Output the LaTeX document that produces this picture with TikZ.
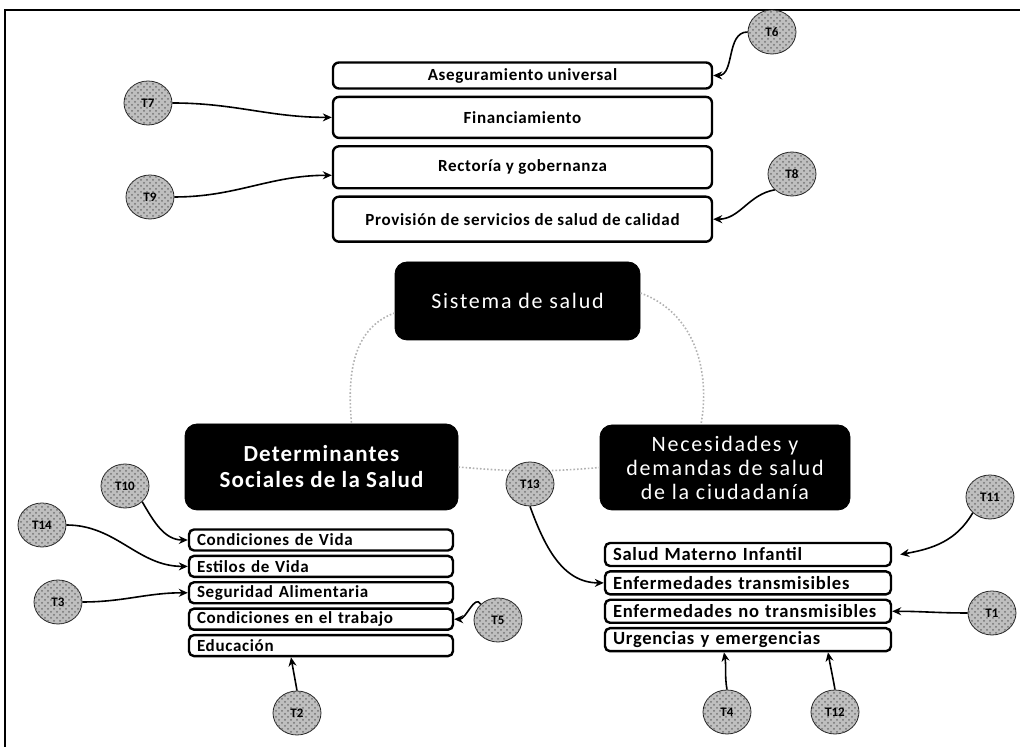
\documentclass[tikz,border=0pt]{standalone}
\usepackage{fontspec}
\setmainfont{Carlito}
\newfontfamily\spaced[LetterSpace=8]{Carlito}
\newfontfamily\spacedbold[LetterSpace=5]{Carlito}
\newfontfamily\itemfont[LetterSpace=4]{Carlito}
\usetikzlibrary{positioning, arrows.meta, shapes.geometric, patterns}

\tikzset{
  topbox/.style={draw, very thick, rounded corners=3pt, minimum width=189.5pt,
    font=\itemfont\fontsize{8.5}{10}\selectfont\bfseries, inner sep=1pt},
  leftbox/.style={draw, very thick, rounded corners=2.5pt, text width=124pt, align=left,
    minimum height=10.5pt, inner xsep=4pt, inner ysep=1.5pt, font=\itemfont\fontsize{8.5}{10}\selectfont\bfseries},
  rightbox/.style={draw, very thick, rounded corners=2.5pt, text width=135pt, align=left,
    minimum height=11.5pt, inner xsep=4pt, inner ysep=1.5pt, font=\itemfont\fontsize{9.3}{11}\selectfont\bfseries},
  blackbox/.style={fill=black, draw=black, rounded corners=6pt, text=white, align=center},
  tag/.style={ellipse, fill=gray!50, draw=gray!30!black, thin, minimum width=24pt,
    minimum height=22pt, inner sep=0pt, font=\fontsize{6.5}{7}\selectfont\bfseries,
    postaction={pattern=crosshatch dots, pattern color=black!55}},
  link/.style={-{Stealth[length=4.5pt,width=4pt]}, thick},
  cycle/.style={gray!60, densely dotted, thick},
}

\begin{document}
\begin{tikzpicture}[x=0.5pt, y=-0.5pt]
  \useasboundingbox (0,0) rectangle (1025,747);
  % frame
  \draw[thick] (5,747) -- (5,10) -- (1020,10);

  % sistema de salud: components
  \node[topbox, minimum height=13pt] (aseg) at (522.5,75.5) {Aseguramiento universal};
  \node[topbox, minimum height=20.5pt, below=3pt of aseg] (finan) {Financiamiento};
  \node[topbox, minimum height=21pt, below=3pt of finan] (rector) {Rectoría y gobernanza};
  \node[topbox, minimum height=22.5pt, below=3pt of rector] (provis) {Provisión de servicios de salud de calidad};

  % central cycle
  \node[blackbox, minimum width=122.5pt, minimum height=39pt,
    font=\spaced\fontsize{11}{13}\selectfont] (sistema) at (517.5,301) {Sistema de salud};
  \node[blackbox, minimum width=136.5pt, minimum height=43pt,
    font=\spacedbold\fontsize{11.5}{13}\selectfont\bfseries] (determ) at (321.5,467) {Determinantes\\Sociales de la Salud};
  \node[blackbox, minimum width=125pt, minimum height=42.5pt,
    font=\spaced\fontsize{11}{12}\selectfont] (necesid) at (725,467.5) {Necesidades y\\demandas de salud\\de la ciudadanía};
  \draw[cycle] ([yshift=-6pt]sistema.west) to[out=200, in=95] ([xshift=15pt]determ.north);
  \draw[cycle] ([yshift=4pt]sistema.east) to[out=-20, in=80] ([xshift=-12pt]necesid.north);
  \draw[cycle] (determ.east) to[out=-5, in=185] (necesid.west);

  % determinantes
  \node[leftbox] (vida) at (321,540) {Condiciones de Vida};
  \node[leftbox, below=1.5pt of vida] (estilos) {Estilos de Vida};
  \node[leftbox, below=1.5pt of estilos] (segur) {Seguridad Alimentaria};
  \node[leftbox, below=1.5pt of segur] (trabajo) {Condiciones en el trabajo};
  \node[leftbox, below=1.5pt of trabajo] (educ) {Educación};

  % necesidades
  \node[rightbox] (materno) at (748,554.5) {Salud Materno Infantil};
  \node[rightbox, below=1.5pt of materno] (transm) {Enfermedades transmisibles};
  \node[rightbox, below=1.5pt of transm] (notransm) {Enfermedades no transmisibles};
  \node[rightbox, below=1.5pt of notransm] (urgen) {Urgencias y emergencias};

  % tags
  \node[tag] (t6) at (772,32) {T6};
  \node[tag] (t7) at (148,103) {T7};
  \node[tag] (t9) at (150,197) {T9};
  \node[tag] (t8) at (792,174) {T8};
  \node[tag] (t10) at (125,486) {T10};
  \node[tag] (t14) at (42,525) {T14};
  \node[tag] (t3) at (58,602) {T3};
  \node[tag] (t2) at (297,713) {T2};
  \node[tag] (t5) at (498,620) {T5};
  \node[tag] (t13) at (530,484) {T13};
  \node[tag] (t11) at (990,497) {T11};
  \node[tag] (t1) at (992,613) {T1};
  \node[tag] (t4) at (727,712) {T4};
  \node[tag] (t12) at (835,712) {T12};

  \draw[link] (t6.west) to[out=180, in=0] (aseg.east);
  \draw[link] (t7.east) to[out=0, in=180] (finan.west);
  \draw[link] (t9.east) to[out=0, in=180] ([yshift=-4pt]rector.west);
  \draw[link] (t8.south west) to[out=190, in=0] (provis.east);
  \draw[link] (t10.south east) to[out=-60, in=180] (vida.west);
  \draw[link] (t14.east) to[out=0, in=180] (estilos.west);
  \draw[link] (t3.east) to[out=0, in=180] (segur.west);
  \draw[link] (t2.north) to[out=100, in=-80] ([xshift=-15pt]educ.south);
  \draw[link] (t5.north west) to[out=120, in=0] (trabajo.east);
  \draw[link] (t13.south) to[out=-70, in=180] (transm.west);
  \draw[link] (t11.south west) to[out=-120, in=10] ([xshift=4pt]materno.east);
  \draw[link] (t1.west) to[out=180, in=0] (notransm.east);
  \draw[link] (t4.north) to[out=100, in=-80] ([xshift=-12pt]urgen.south);
  \draw[link] (t12.north) to[out=100, in=-80] ([xshift=40pt]urgen.south);
\end{tikzpicture}
\end{document}
